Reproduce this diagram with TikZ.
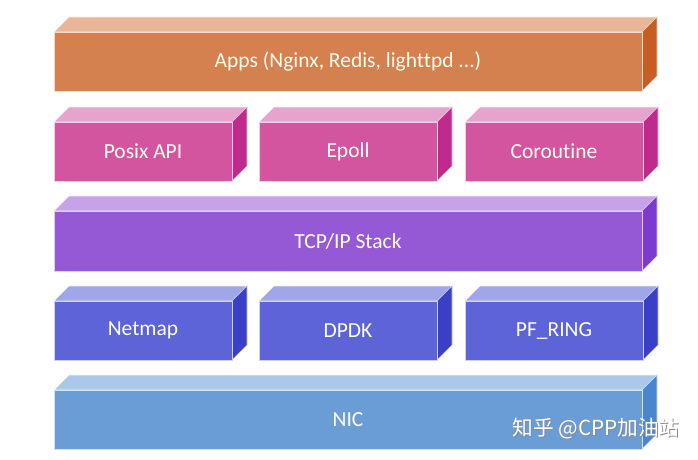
\documentclass[tikz,border=0pt]{standalone}
\usepackage{fontspec}
\setmainfont[Ligatures=NoCommon]{Carlito}
\newfontfamily\cjkfont{Noto Sans CJK SC}
\usepackage{xcolor}
\definecolor{appsFront}{HTML}{D4804F}
\definecolor{appsTop}{HTML}{E9B697}
\definecolor{appsSide}{HTML}{C65D22}
\definecolor{apiFront}{HTML}{D355A0}
\definecolor{apiTop}{HTML}{E5A3CD}
\definecolor{apiSide}{HTML}{BF2B8C}
\definecolor{stackFront}{HTML}{9559D6}
\definecolor{stackTop}{HTML}{C6A3E8}
\definecolor{stackSide}{HTML}{7C3AD0}
\definecolor{ioFront}{HTML}{5C64D8}
\definecolor{ioTop}{HTML}{A1A6EA}
\definecolor{ioSide}{HTML}{3A3FC6}
\definecolor{nicFront}{HTML}{6A9CD6}
\definecolor{nicTop}{HTML}{AAC8EA}
\definecolor{nicSide}{HTML}{4A86D0}

% #1 name, #2 left, #3 top, #4 right, #5 bottom, #6 colour prefix, #7 text
\newcommand{\layerbox}[7]{%
  \filldraw[fill=#6Top, draw=white!80!#6Top, line width=0.6pt]
    (#2,#3) -- (#2+15,#3-15) -- (#4+15,#3-15) -- (#4,#3) -- cycle;
  \filldraw[fill=#6Side, draw=white!70!#6Side, line width=0.6pt]
    (#4,#3) -- (#4+15,#3-15) -- (#4+15,#5-15) -- (#4,#5) -- cycle;
  \filldraw[fill=#6Front, draw=white!70!#6Front, line width=0.6pt]
    (#2,#3) rectangle (#4,#5);
  \node[text=white!95!yellow, font=\fontsize{21.5}{24}\selectfont] (#1) at ({(#2+#4)/2},{(#3+#5)/2}) {#7};
}

\begin{document}
\begin{tikzpicture}[x=1pt, y=-1pt]
  \useasboundingbox[fill=white] (0,0) rectangle (698,459);
  \layerbox{apps}{54}{32}{642}{91}{apps}{Apps (Nginx, Redis, lighttpd ...)}
  \layerbox{posix}{54}{122}{232}{181}{api}{Posix API}
  \layerbox{epoll}{259}{122}{437}{181}{api}{Epoll}
  \layerbox{coroutine}{465}{122}{643}{181}{api}{Coroutine}
  \layerbox{tcpip}{54}{211}{642}{271}{stack}{TCP/IP Stack}
  \layerbox{netmap}{54}{301}{232}{360}{io}{Netmap}
  \layerbox{dpdk}{259}{301}{437}{360}{io}{DPDK}
  \layerbox{pfring}{465}{301}{643}{360}{io}{PF\_RING}
  \layerbox{nic}{54}{390}{642}{449}{nic}{NIC}
  % watermark
  \node[text=black!45, font=\cjkfont\fontsize{20.7}{23}\selectfont] at (597,430) {知乎 @CPP加油站};
  \node[text=white, font=\cjkfont\fontsize{20.7}{23}\selectfont] (mark) at (596,429) {知乎 @CPP加油站};
\end{tikzpicture}
\end{document}
